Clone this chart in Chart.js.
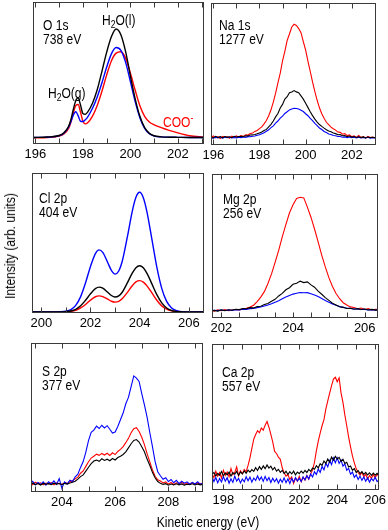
<!DOCTYPE html>
<html>
<head>
<meta charset="utf-8">
<script src="https://cdn.jsdelivr.net/npm/chart.js@4.4.0/dist/chart.umd.min.js"></script>
<style>
  body { margin: 0; background: #fff; width: 388px; height: 530px; position: relative; overflow: hidden;
         font-family: "Liberation Sans", Arial, sans-serif; }
  canvas { position: absolute; }
  .lbl { position: absolute; font-size: 14px; line-height: 14px; color: #000; white-space: nowrap;
         transform: scaleX(0.86); transform-origin: 0 0; }
  .lbl sub { font-size: 10px; vertical-align: -3px; line-height: 0; }
  .lbl sup { font-size: 10px; vertical-align: 6px; line-height: 0; }
</style>
</head>
<body>
<canvas id="o1s"></canvas>
<canvas id="na1s"></canvas>
<canvas id="cl2p"></canvas>
<canvas id="mg2p"></canvas>
<canvas id="s2p"></canvas>
<canvas id="ca2p"></canvas>

<div class="lbl" style="left:43px;top:18px">O 1s<br>738 eV</div>
<div class="lbl" style="left:219px;top:18px">Na 1s<br>1277 eV</div>
<div class="lbl" style="left:39px;top:191px">Cl 2p<br>404 eV</div>
<div class="lbl" style="left:223px;top:192px">Mg 2p<br>256 eV</div>
<div class="lbl" style="left:42px;top:364px">S 2p<br>377 eV</div>
<div class="lbl" style="left:222px;top:365px">Ca 2p<br>557 eV</div>

<div class="lbl" style="left:102px;top:13px">H<sub>2</sub>O(l)</div>
<div class="lbl" style="left:48px;top:86px">H<sub>2</sub>O(g)</div>
<div class="lbl" style="left:163px;top:115px;color:#ff0000">COO<sup>-</sup></div>

<div class="lbl" style="left:10px;top:246px;transform-origin:50% 50%;transform:translate(-50%,-50%) rotate(-90deg) scaleX(0.86)">Intensity (arb. units)</div>
<div class="lbl" style="left:208px;top:522px;transform-origin:50% 50%;transform:translate(-50%,-50%) scaleX(0.86)">Kinetic energy (eV)</div>

<script>
// ---- O 1s (738 eV) ----
const o1sE = [195.9, 196.5, 197.0, 197.2, 197.4, 197.5, 197.6, 197.7, 197.8, 197.9, 198.0, 198.1, 198.2, 198.4, 198.6, 198.8,
  199.0, 199.2, 199.4, 199.6, 199.8, 200.0, 200.2, 200.4, 200.6, 200.8, 201.0, 201.3, 201.6, 202.0, 202.5, 203.1];
const o1sBlack = [4.6, 4.9, 6.0, 8.0, 12.5, 17.5, 24.5, 30.5, 32.5, 27.5, 21.5, 21.0, 22.5, 28.5, 38, 51,
  64.5, 75.5, 81, 77, 65, 48, 32, 19.5, 11.5, 7.5, 5.8, 5.0, 4.8, 4.7, 4.6, 4.6];
const o1sBlue = [4.6, 4.8, 5.8, 7.5, 12, 16, 20.5, 22.7, 20, 16, 15.8, 17, 19, 25, 33, 43,
  54, 63.5, 68, 66, 57.5, 44, 30, 18.5, 11, 7.2, 5.6, 5.0, 4.8, 4.7, 4.6, 4.6];
const o1sRed = [4.3, 4.6, 5.5, 7.0, 11, 15.5, 22, 27, 27.8, 22.5, 16, 14.2, 15, 19.5, 27, 37,
  48.5, 58.5, 64, 65, 60.5, 50, 38, 27, 19.5, 15.5, 13.5, 11.5, 9.8, 7.8, 5.8, 4.8];
const o1sTicks = [196, 197, 198, 199, 200, 201, 202, 203];

// ---- Na 1s (1277 eV), sampled every 0.1 eV from 195.9 ----
const naStart = 195.9;
const naRed = [5.2, 6.3, 5.0, 5.8, 4.6, 6.0, 5.4, 5.9, 4.8, 6.2,
  5.5, 6.4, 5.7, 6.6, 6.1, 7.2, 7.0, 8.1, 8.4, 9.6,
  10.2, 11.5, 12.8, 14.9, 17.3, 20.6, 24.8, 30.2, 36.5, 43.8,
  50.6, 59.3, 66.0, 73.6, 78.2, 83.1, 85.0, 84.2, 82.0, 79.1,
  72.8, 66.9, 59.0, 51.8, 44.5, 37.6, 31.5, 26.2, 22.0, 18.9,
  16.0, 14.3, 12.6, 11.4, 10.5, 9.1, 8.9, 7.6, 8.0, 6.6,
  7.1, 5.8, 6.5, 5.4, 6.7, 5.3, 5.9, 4.9, 6.0, 5.2,
  5.6, 5.0];
const naBlack = [5.6, 5.0, 6.1, 5.3, 5.9, 5.1, 6.0, 5.4, 5.8, 5.2,
  6.1, 5.6, 5.9, 6.2, 5.8, 6.5, 6.4, 7.0, 7.1, 7.4,
  7.9, 8.5, 9.1, 10.2, 11.0, 12.8, 14.5, 16.9, 19.8, 22.2,
  26.0, 28.6, 32.3, 34.0, 36.8, 37.4, 38.3, 37.4, 36.9, 34.6,
  32.3, 29.4, 26.5, 23.4, 20.7, 18.2, 16.1, 14.4, 13.1, 11.9,
  10.8, 9.9, 9.3, 8.4, 8.0, 7.2, 7.3, 6.5, 6.7, 5.9,
  6.3, 5.6, 6.0, 5.3, 5.8, 5.2, 5.7, 5.0, 5.6, 5.1,
  5.5, 5.2];
const naBlue = [5.3, 4.8, 5.5, 5.0, 5.6, 4.9, 5.4, 5.1, 5.6, 5.0,
  5.3, 5.0, 5.5, 5.2, 5.6, 5.4, 5.9, 5.8, 6.2, 6.3,
  6.9, 7.2, 8.0, 8.6, 9.7, 10.7, 12.2, 13.5, 15.4, 16.9,
  18.9, 20.4, 22.2, 23.4, 24.7, 25.3, 25.9, 25.7, 25.4, 24.5,
  23.6, 22.0, 20.6, 18.7, 17.1, 15.2, 13.7, 12.0, 10.9, 9.5,
  8.8, 7.8, 7.4, 6.7, 6.5, 6.0, 6.0, 5.5, 5.7, 5.2,
  5.6, 5.1, 5.4, 5.0, 5.5, 4.9, 5.3, 5.0, 5.4, 4.8,
  5.2, 4.9];
const naTicks = [196, 197, 198, 199, 200, 201, 202, 203];

// ---- Cl 2p (404 eV) ----
const clE = [199.6, 200.0, 200.5, 200.8, 201.0, 201.2, 201.4, 201.6, 201.8, 202.0, 202.2, 202.35, 202.5, 202.7, 202.85,
  203.0, 203.15, 203.3, 203.5, 203.7, 203.85, 204.0, 204.15, 204.3, 204.5, 204.7, 204.9, 205.1, 205.3, 205.5, 205.8, 206.2, 206.7];
const clBlack = [0.7, 0.7, 0.7, 0.75, 0.9, 1.4, 2.6, 5.1, 9.1, 13.7, 17.4, 18.5, 17.7, 14.8, 12.5,
  11.4, 12.2, 15.0, 21.5, 28.5, 32.4, 33.8, 32.3, 28.3, 20.8, 13.1, 7.2, 3.6, 1.8, 1.1, 0.75, 0.7, 0.7];
const clBlue = [0.7, 0.7, 0.8, 0.9, 1.3, 2.4, 5.4, 11.7, 21.6, 33.2, 42.4, 45.1, 43.3, 36.1, 30.5,
  27.8, 30.0, 37.5, 54.3, 72.6, 82.6, 86.2, 82.4, 72.1, 52.6, 32.8, 17.6, 8.3, 3.6, 1.65, 0.8, 0.7, 0.7];
const clRed = [0.7, 0.7, 0.7, 0.7, 0.8, 1.1, 1.9, 3.6, 6.1, 9.2, 11.6, 12.2, 11.7, 9.9, 8.4,
  7.8, 8.3, 10.3, 14.7, 19.5, 22.2, 23.1, 22.1, 19.4, 14.3, 9.1, 5.1, 2.7, 1.5, 0.95, 0.7, 0.7, 0.7];
const clTicks = [200, 201, 202, 203, 204, 205, 206];

// ---- Mg 2p (256 eV), every 0.1 eV from 201.7 ----
const mgStart = 201.7;
const mgRed = [5.4, 4.7, 5.6, 5.0, 5.8, 5.1, 5.5, 5.9, 5.6, 6.3,
  6.8, 7.7, 8.9, 11.4, 14.5, 18.3, 24.0, 30.6, 38.6, 47.0,
  56.3, 64.9, 72.9, 78.6, 83.0, 83.8, 83.4, 77.0, 70.0, 61.8,
  52.8, 43.7, 35.5, 28.0, 21.9, 17.0, 13.4, 10.6, 9.0, 7.7,
  7.3, 6.4, 6.9, 5.9, 6.5, 5.6, 6.1, 5.7];
const mgBlack = [4.6, 5.3, 4.8, 5.6, 5.0, 5.7, 5.4, 6.1, 5.8, 6.6,
  6.4, 7.2, 7.0, 7.9, 8.2, 9.4, 10.1, 11.6, 13.0, 15.3,
  17.1, 19.6, 21.0, 23.4, 24.1, 25.6, 24.6, 25.1, 23.0, 21.4,
  18.6, 16.5, 14.1, 12.2, 10.3, 9.1, 7.8, 7.4, 6.6, 6.8,
  6.1, 6.5, 5.9, 6.2, 5.6, 6.0, 5.5, 5.8];
const mgBlue = [5.0, 5.4, 5.1, 5.5, 5.2, 5.6, 5.3, 5.8, 5.6, 6.1,
  6.0, 6.5, 6.6, 7.2, 7.6, 8.3, 9.0, 9.9, 11.0, 12.0,
  13.4, 14.6, 15.7, 16.6, 17.2, 17.7, 17.5, 17.6, 16.8, 16.0,
  14.9, 13.6, 12.2, 10.9, 9.7, 8.8, 7.9, 7.4, 6.8, 6.7,
  6.2, 6.3, 5.9, 6.0, 5.6, 5.8, 5.4, 5.6];
const mgTicks = [202, 202.5, 203, 203.5, 204, 204.5, 205, 205.5, 206];

// ---- S 2p (377 eV), every 0.1 eV from 202.8 ----
const sStart = 202.8;
const sBlue = [5.5, 7.2, 4.8, 6.4, 5.0, 6.8, 4.6, 6.9, 5.3, 7.4,
  5.1, 9.0, 2.5, 6.8, 5.4, 7.9, 7.0, 10.2, 12.0, 16.5,
  20.4, 26.8, 34.5, 40.1, 41.5, 44.2, 42.6, 44.8, 43.0, 44.5,
  42.1, 39.6, 40.3, 44.0, 48.5, 53.0, 59.2, 63.5, 70.8, 77.9,
  76.4, 74.2, 66.0, 58.5, 50.2, 40.1, 30.6, 20.5, 13.6, 10.9,
  8.5, 9.6, 7.0, 8.4, 6.2, 7.8, 5.6, 7.2, 5.9, 6.8,
  5.2, 6.5, 5.4, 6.9, 5.0, 6.3];
const sRed = [6.0, 4.9, 6.6, 5.5, 6.2, 4.8, 6.0, 5.4, 6.3, 4.9,
  6.1, 5.6, 5.0, 6.2, 5.8, 6.9, 7.6, 8.8, 10.0, 12.6,
  14.1, 17.2, 20.3, 22.8, 24.0, 25.4, 24.6, 25.9, 24.8, 26.0,
  24.5, 26.3, 25.1, 27.2, 28.6, 30.5, 33.1, 36.0, 39.8, 42.5,
  43.2, 40.6, 36.7, 31.8, 25.8, 20.4, 14.9, 10.6, 8.2, 7.4,
  6.1, 6.8, 5.3, 6.4, 5.0, 6.2, 5.6, 6.5, 5.1, 6.0,
  5.4, 6.3, 5.2, 6.1, 5.5, 6.0];
const sBlack = [5.2, 5.9, 5.0, 5.7, 4.7, 5.8, 5.2, 5.6, 4.9, 5.9,
  5.3, 5.7, 5.0, 5.8, 5.3, 6.0, 6.5, 7.2, 8.6, 10.3,
  11.5, 14.0, 16.6, 19.0, 20.8, 21.4, 20.6, 22.3, 21.2, 22.0,
  21.0, 22.5, 21.5, 23.1, 24.0, 25.2, 26.9, 29.6, 32.4, 34.6,
  35.2, 33.5, 30.4, 27.0, 22.1, 17.9, 13.2, 9.6, 7.0, 5.8,
  5.1, 5.6, 4.6, 5.3, 4.7, 5.5, 4.8, 5.4, 4.6, 5.2,
  4.9, 5.5, 4.7, 5.3, 4.8, 5.2];
const sTicks = [203, 204, 205, 206, 207, 208, 209];

// ---- Ca 2p (557 eV), every 0.1 eV from 197.4 ----
const caStart = 197.4;
const caRed = [11.0, 8.5, 12.8, 9.4, 11.9, 8.2, 13.5, 10.0, 12.3, 9.1,
  14.6, 10.5, 12.0, 15.8, 9.7, 13.2, 11.1, 14.0, 12.5, 16.8,
  22.0, 28.5, 34.8, 38.0, 40.6, 39.2, 42.5, 41.0, 44.3, 46.9,
  43.0, 38.1, 33.0, 26.4, 25.0, 22.5, 21.0, 15.2, 11.8, 9.5,
  10.6, 7.3, 9.0, 4.5, 8.2, 6.0, 9.3, 5.6, 8.7, 6.8,
  9.9, 7.4, 11.2, 13.6, 19.0, 26.8, 33.5, 38.9, 44.0, 48.2,
  55.6, 61.0, 66.3, 71.5, 76.0, 77.2, 74.1, 76.8, 66.5, 60.0,
  51.4, 44.0, 36.2, 29.5, 23.4, 18.6, 14.5, 12.0, 10.3, 12.1,
  9.0, 10.8, 7.5, 9.9, 8.0, 10.6, 8.4, 11.0, 9.2];
const caBlack = [10.5, 12.0, 9.6, 11.4, 10.1, 12.6, 9.8, 11.7, 10.4, 12.2,
  9.5, 11.9, 10.8, 12.7, 10.0, 12.4, 11.0, 13.1, 11.5, 13.6,
  12.2, 14.0, 12.8, 15.3, 13.4, 16.0, 14.1, 16.5, 14.6, 17.2,
  15.0, 16.3, 13.8, 15.4, 12.9, 14.2, 12.1, 13.5, 11.3, 12.8,
  10.6, 12.5, 11.0, 12.9, 10.4, 12.3, 11.2, 13.0, 11.5, 13.4,
  12.0, 14.1, 12.8, 15.0, 14.2, 16.6, 15.1, 18.0, 16.9, 19.8,
  18.2, 21.3, 19.0, 22.6, 20.5, 23.0, 21.2, 22.4, 19.6, 21.0,
  18.1, 18.9, 15.8, 16.4, 13.5, 14.6, 12.0, 13.3, 11.2, 12.6,
  10.7, 12.1, 10.3, 11.8, 10.0, 11.6, 10.2, 11.4, 9.9];
const caBlue = [9.0, 5.8, 8.6, 4.9, 7.9, 5.5, 9.2, 6.0, 8.4, 4.6,
  7.7, 5.2, 9.5, 6.1, 8.0, 4.8, 7.5, 5.6, 9.1, 6.3,
  8.8, 5.4, 8.2, 6.5, 9.6, 6.8, 8.9, 5.9, 9.3, 6.4,
  8.5, 5.1, 8.1, 5.7, 7.8, 4.7, 7.4, 5.3, 8.3, 5.0,
  7.6, 4.4, 7.9, 5.5, 8.6, 6.2, 8.0, 5.8, 9.0, 6.9,
  9.8, 7.6, 11.0, 8.9, 12.5, 10.6, 14.3, 12.0, 16.1, 13.8,
  18.4, 15.9, 20.2, 17.3, 21.9, 18.6, 22.0, 18.2, 20.5, 16.3,
  17.9, 13.6, 14.8, 10.9, 12.3, 8.7, 10.4, 7.2, 9.5, 6.6,
  8.9, 6.0, 8.4, 5.4, 7.9, 6.3, 8.7, 5.8, 7.0];
const caTicks = [198, 199, 200, 201, 202, 203, 204, 205, 206];

// energies of a spectrum recorded on a 0.1 eV grid
function grid(start, n) {
  const out = [];
  for (let i = 0; i < n; i++) out.push(+(start + i * 0.1).toFixed(2));
  return out;
}

function pts(xs, ys) {
  return ys.map((y, i) => ({ x: xs[i], y: y }));
}

const BLACK = "#000000";
const BLUE = "#0000ff";
const RED = "#ff0000";
const PAD = 16;
const AXIS_H = 24;

// frame around the plot area, with inward ticks top and bottom
const framePlugin = {
  id: "frame",
  afterDraw(chart) {
    const { ctx, chartArea: a } = chart;
    const xs = chart.scales.x;
    ctx.save();
    ctx.strokeStyle = "#3a3a3a";
    ctx.lineWidth = 1;
    const l = Math.round(a.left) + 0.5, t = Math.round(a.top) + 0.5;
    const r = Math.round(a.right) - 0.5, b = Math.round(a.bottom) - 0.5;
    ctx.strokeRect(l, t, r - l, b - t);
    ctx.beginPath();
    xs.ticks.forEach((tk) => {
      const px = Math.round(xs.getPixelForValue(tk.value)) + 0.5;
      ctx.moveTo(px, b);
      ctx.lineTo(px, b - 5);
      ctx.moveTo(px, t);
      ctx.lineTo(px, t + 5);
    });
    ctx.stroke();
    ctx.restore();
  },
};

Chart.defaults.font.family = '"Liberation Sans", Arial, sans-serif';
Chart.defaults.font.size = 13;
Chart.defaults.color = "#000";

function makePanel(p) {
  const cv = document.getElementById(p.id);
  const [fl, ft, fr, fb] = p.frame;
  const w = fr - fl + 2 * PAD;
  const h = fb - ft + 3 + AXIS_H;
  cv.width = w;
  cv.height = h;
  cv.style.left = fl - PAD + "px";
  cv.style.top = ft - 3 + "px";
  cv.style.width = w + "px";
  cv.style.height = h + "px";

  const colors = [BLACK, BLUE, RED];
  new Chart(cv, {
    type: "line",
    data: {
      datasets: p.series.map((s, i) => ({
        data: pts(p.x, s),
        borderColor: colors[i],
        borderWidth: p.smooth ? 1.4 : 1.1,
        pointRadius: 0,
        fill: false,
        cubicInterpolationMode: p.smooth ? "monotone" : "default",
        tension: 0,
      })),
    },
    options: {
      responsive: false,
      animation: false,
      events: [],
      layout: { padding: { left: PAD, right: PAD, top: 3, bottom: 0 } },
      plugins: { legend: { display: false }, tooltip: { enabled: false } },
      scales: {
        x: {
          type: "linear",
          min: p.xMin,
          max: p.xMax,
          afterBuildTicks: (scale) => {
            scale.ticks = p.ticks.map((v) => ({ value: v }));
          },
          afterFit: (scale) => {
            scale.height = AXIS_H;
          },
          grid: { display: false, drawTicks: false },
          border: { display: false },
          ticks: {
            autoSkip: false,
            maxRotation: 0,
            padding: 3,
            callback: (v) => (Number.isInteger(v) && v % 2 === 0 ? String(v) : ""),
          },
        },
        y: { display: false, min: 0, max: 100 },
      },
    },
    plugins: [framePlugin],
  });
}

// series order in each panel: black, blue, red
const panels = [
  { id: "o1s", frame: [33, 2, 204, 144], xMin: 195.9, xMax: 203.1, ticks: o1sTicks,
    x: o1sE, series: [o1sBlack, o1sBlue, o1sRed], smooth: true },
  { id: "na1s", frame: [211, 3, 376, 145], xMin: 195.9, xMax: 203.05, ticks: naTicks,
    x: grid(naStart, naRed.length), series: [naBlack, naBlue, naRed], smooth: false },
  { id: "cl2p", frame: [32, 173, 204, 313], xMin: 199.62, xMax: 206.62, ticks: clTicks,
    x: clE, series: [clBlack, clBlue, clRed], smooth: true },
  { id: "mg2p", frame: [212, 174, 378, 318], xMin: 201.74, xMax: 206.37, ticks: mgTicks,
    x: grid(mgStart, mgRed.length), series: [mgBlack, mgBlue, mgRed], smooth: false },
  { id: "s2p", frame: [31, 343, 203, 492], xMin: 202.84, xMax: 209.3, ticks: sTicks,
    x: grid(sStart, sRed.length), series: [sBlack, sBlue, sRed], smooth: false },
  { id: "ca2p", frame: [212, 344, 379, 490], xMin: 197.4, xMax: 206.2, ticks: caTicks,
    x: grid(caStart, caRed.length), series: [caBlack, caBlue, caRed], smooth: false },
];

panels.forEach(makePanel);
</script>
</body>
</html>
